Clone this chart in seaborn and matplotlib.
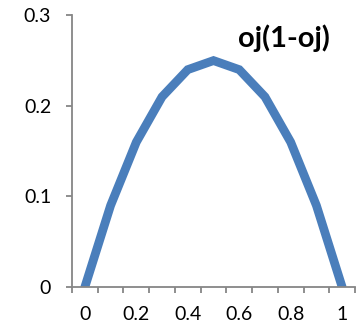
import matplotlib
matplotlib.use("Agg")
import matplotlib.pyplot as plt
import seaborn as sns
import pandas as pd
import numpy as np

# Curve p(1-p) sampled at p = 0, 0.1, ..., 1
oj = [0.0, 0.1, 0.2, 0.3, 0.4, 0.5, 0.6, 0.7, 0.8, 0.9, 1.0]
oj_var = [0.0, 0.09, 0.16, 0.21, 0.24, 0.25, 0.24, 0.21, 0.16, 0.09, 0.0]
x_labels = ["0", "0.2", "0.4", "0.6", "0.8", "1"]
y_ticks = [0, 0.1, 0.2, 0.3]
title = "oj(1-oj)"

sns.set_style("white")
plt.rcParams["font.family"] = ["Lato", "DejaVu Sans"]

df = pd.DataFrame({"oj": oj, "value": oj_var})

fig = plt.figure(figsize=(3.64, 3.28), dpi=100)
ax = fig.add_axes([72 / 364, 1 - 287 / 328, (355 - 72) / 364, (287 - 15.3) / 328])

sns.lineplot(data=df, x="oj", y="value", ax=ax, color="#4A7EBB",
             linewidth=6.3, solid_joinstyle="miter")

axis_grey = "#868686"
ax.set_xlim(-0.05, 1.05)
ax.set_ylim(0, 0.3)
ax.set_xlabel("")
ax.set_ylabel("")

# category labels every second point, tick marks between categories
ax.set_xticks([0, 0.2, 0.4, 0.6, 0.8, 1.0])
ax.set_xticklabels(x_labels)
ax.set_xticks(np.arange(-0.05, 1.06, 0.1), minor=True)
ax.tick_params(axis="x", which="major", length=0, pad=14, labelsize=14,
               labelcolor="black")
ax.tick_params(axis="x", which="minor", length=4, width=1.3, color=axis_grey,
               direction="out", bottom=True)

ax.set_yticks(y_ticks)
ax.set_yticklabels(["0", "0.1", "0.2", "0.3"])
ax.tick_params(axis="y", which="major", length=4, width=1.3, color=axis_grey,
               direction="out", left=True, pad=11, labelsize=14,
               labelcolor="black")

for side in ("top", "right"):
    ax.spines[side].set_visible(False)
for side in ("left", "bottom"):
    ax.spines[side].set_color(axis_grey)
    ax.spines[side].set_linewidth(1.3)

fig.text(283.5 / 364, 1 - 38 / 328, title, ha="center", va="center",
         fontsize=21, fontweight="bold", color="black")

fig.savefig("out.png", dpi=100)
